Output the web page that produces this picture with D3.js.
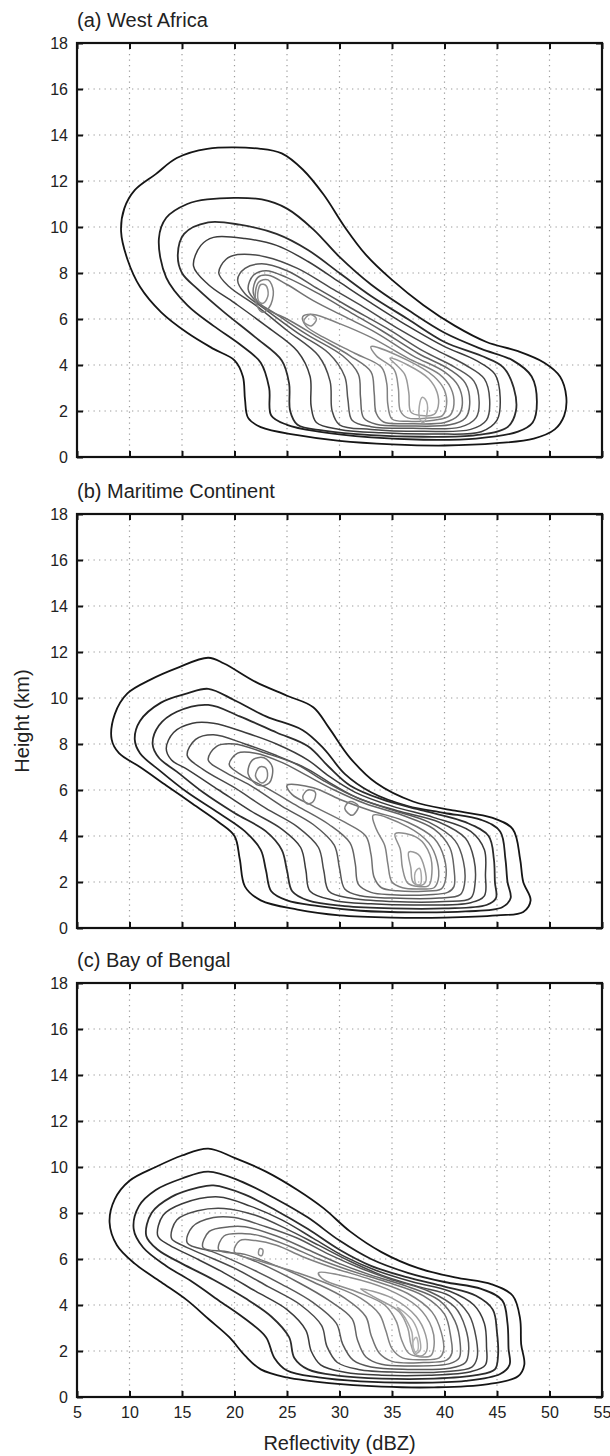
<!DOCTYPE html>
<html>
<head>
<meta charset="utf-8">
<script src="https://cdn.jsdelivr.net/npm/d3@7"></script>
<style>
  body { margin: 0; background: #fff; }
  svg text { font-family: "Liberation Sans", Arial, sans-serif; fill: #222; }
  .grid line { stroke: #9c9c9c; stroke-width: 1.2; stroke-dasharray: 1.3 4.2; }
  .axis path.domain { display: none; }
  .axis line { stroke: #111; stroke-width: 2; }
  .axis text { font-size: 16px; }
</style>
</head>
<body>
<svg id="chart" width="610" height="1456"></svg>
<script>
// tick values
const xTicks = [5, 10, 15, 20, 25, 30, 35, 40, 45, 50, 55];
const yTicks = [0, 2, 4, 6, 8, 10, 12, 14, 16, 18];

// gray level of each contour, outer -> inner
const levelColors = ["#151515", "#1f1f1f", "#2c2c2c", "#3b3b3b", "#494949", "#575757",
  "#646464", "#727272", "#808080", "#8d8d8d", "#9a9a9a", "#a8a8a8", "#b5b5b5"];

// contours: [level, [[dBZ, km], ...]]
const westAfrica = [
  [0, [[9.2,9.8],[9.5,10.8],[10.5,11.6],[12.5,12.3],[14.5,13],[17.4,13.4],[22.5,13.4],[24.5,13.2],[26.5,12.5],[28.5,11.4],[30.5,10],[32.5,8.8],[35,7.7],[38,6.6],[41,5.7],[44,5],[47,4.6],[49.5,4.1],[51,3.5],[51.6,2.6],[51.4,1.8],[50.5,1.2],[48.5,0.8],[45,0.6],[40,0.5],[35,0.55],[30,0.7],[26,0.95],[22.5,1.3],[21.3,1.7],[21,2.5],[20.8,3.5],[20,4.2],[18,4.7],[15.5,5.4],[13,6.3],[11,7.4],[9.8,8.6]]],
  [1, [[12.8,9.5],[13.5,10.4],[15.5,11],[17.4,11.2],[22.6,11.2],[25,10.8],[27.5,9.9],[30,8.7],[33,7.5],[36.5,6.4],[40,5.4],[43.5,4.7],[46.5,4.2],[48.3,3.5],[48.8,2.4],[48.4,1.5],[47,1.1],[43,0.8],[38,0.75],[33,0.85],[28,1.1],[25,1.4],[23.5,1.8],[23.3,3],[22.5,4.1],[20.5,4.9],[18,5.7],[15.5,6.6],[13.5,7.8]]],
  [2, [[14.6,8.8],[15.2,9.7],[17.5,10.2],[20.5,10.1],[24,9.7],[27,9],[30,8],[33,7],[36.5,6],[40,5],[43.5,4.4],[45.6,3.9],[46.6,3],[46.8,2],[46,1.3],[43,0.95],[38,0.88],[33,0.95],[28.5,1.15],[26,1.4],[25.3,2],[25.2,3.2],[24.5,4.2],[22,5.2],[19,6.3],[16.5,7.3],[15,8]]],
  [3, [[16.1,8.3],[16.8,9.2],[18,9.55],[21,9.5],[24,9.2],[27,8.5],[30,7.6],[33,6.7],[36.5,5.7],[40,4.8],[43,4.2],[44.8,3.6],[45.3,2.6],[45,1.6],[43.5,1.1],[39,1],[34,1.05],[30,1.2],[27.8,1.5],[27.3,2.2],[27.2,3.5],[26,4.6],[23,5.7],[20,6.7],[17.5,7.5]]],
  [4, [[18.5,8],[19.2,8.6],[20.3,8.8],[23,8.7],[26,8.2],[29,7.4],[32,6.6],[35.5,5.6],[39,4.7],[42,4],[43.8,3.4],[44.3,2.5],[44,1.6],[42.5,1.2],[38,1.12],[33,1.2],[30,1.4],[29.3,2],[29.1,3.3],[28,4.4],[25,5.5],[22,6.6],[19.5,7.4]]],
  [5, [[20.3,7.7],[21,8.2],[22.6,8.4],[25,8.1],[28,7.3],[31,6.5],[34.5,5.6],[38,4.6],[41,3.9],[42.8,3.3],[43.3,2.4],[43,1.7],[41.5,1.3],[37,1.25],[33,1.32],[31.2,1.6],[30.8,2.5],[30.5,3.5],[29,4.5],[26,5.4],[23,6.4],[21,7.1]]],
  [6, [[21.3,7.3],[21.8,7.9],[23,8.1],[25,7.8],[28,7.1],[31,6.3],[34,5.5],[37.5,4.5],[40.5,3.8],[42,3.2],[42.4,2.3],[42,1.7],[40.5,1.4],[36.5,1.35],[33.5,1.42],[32.3,1.7],[32,2.6],[31.8,3.6],[30.3,4.4],[27,5.3],[24,6.2],[22,6.8]]],
  [7, [[21.8,7.1],[22.2,7.8],[23.2,7.9],[25,7.5],[27.5,6.8],[30.5,6.1],[33.5,5.4],[37,4.4],[40,3.7],[41.3,3.1],[41.7,2.3],[41.3,1.8],[40,1.5],[36.5,1.45],[34.2,1.52],[33.5,1.9],[33.3,2.8],[33,3.7],[31,4.4],[28,5.2],[25,6],[22.8,6.5]]],
  [8, [[22,6.8],[22.3,7.6],[23.2,7.7],[23.7,7.2],[23.3,6.5],[22.6,6.3]]],
  [8, [[26.5,6.1],[27.5,6.2],[30,5.8],[33,5.2],[36.5,4.3],[39.5,3.6],[40.6,3],[40.9,2.3],[40.5,1.8],[39,1.6],[36.5,1.55],[35,1.65],[34.6,2.3],[34.5,3.2],[34,3.9],[31.5,4.5],[28.5,5.2],[26.8,5.7]]],
  [9, [[22.2,7],[22.5,7.5],[23,7.45],[23.2,7.05],[22.8,6.7],[22.4,6.72]]],
  [9, [[26.6,5.9],[27.2,6.2],[27.8,6],[27.3,5.7]]],
  [9, [[33,4.8],[36.5,4.2],[39,3.5],[40,2.9],[40.2,2.3],[39.8,1.8],[38.5,1.7],[36.5,1.7],[35.8,2],[35.6,3],[35.2,3.8],[33.5,4.4]]],
  [10, [[34.8,4.3],[36.5,4],[38.5,3.4],[39.3,2.8],[39.4,2.2],[39,1.85],[37.8,1.8],[36.8,1.95],[36.6,2.8],[36.2,3.6]]],
  [11, [[37.7,1.6],[37.6,2.2],[37.9,2.6],[38.3,2.4],[38.3,1.8],[38,1.5]]]
];

const maritime = [
  [0, [[8.3,8.2],[8.6,9.3],[9.8,10.2],[12,10.8],[14.5,11.3],[17.5,11.75],[19,11.5],[22,10.7],[25,10.1],[27.5,9.6],[29,8.7],[31,7.4],[33.5,6.3],[37,5.5],[41,5.1],[44.5,4.8],[46.5,4.3],[47.2,3],[47.5,2],[48.2,1.2],[47.5,0.7],[45,0.55],[40,0.45],[35,0.45],[30,0.55],[26,0.8],[22.5,1.2],[21,1.8],[20.5,3],[20,4],[18.5,4.6],[16,5.4],[13.5,6.2],[11,7],[9,7.6]]],
  [1, [[10.5,8.2],[11,9],[13,9.8],[15.5,10.2],[17.5,10.4],[20,9.9],[23,9.2],[26.5,8.6],[28.5,7.8],[30.5,6.7],[33,5.9],[36.5,5.3],[40,5],[43.5,4.7],[45.3,4.2],[45.8,3],[46,2],[46.3,1.3],[45.5,0.9],[42,0.72],[37,0.68],[32,0.75],[28,0.95],[25,1.2],[23.5,1.6],[23,2.5],[22.5,3.4],[21,4.2],[18.5,5],[15.5,5.9],[13,6.8],[11,7.6]]],
  [2, [[12.2,8],[12.8,8.8],[14.5,9.4],[17.5,9.7],[20.5,9.2],[24,8.5],[27,7.9],[29,7],[31,6.2],[34,5.6],[38,5.1],[42,4.6],[44.2,4],[44.7,3],[44.8,2],[44.9,1.3],[44,1],[40,0.85],[35,0.85],[30.5,0.95],[27,1.2],[25.5,1.6],[25,2.5],[24.5,3.4],[23,4.2],[20,5],[17,5.9],[14.5,6.8],[12.8,7.4]]],
  [3, [[13.5,7.8],[14.2,8.5],[16,8.9],[18,8.9],[21,8.5],[24,8],[27,7.3],[29,6.6],[31.5,5.9],[35,5.3],[39,4.8],[42.5,4.2],[43.8,3.4],[43.9,2.3],[43.8,1.4],[42.5,1.1],[38,1],[33,1.05],[29.5,1.2],[27.2,1.6],[26.8,2.5],[26.3,3.5],[24.5,4.3],[21.5,5.1],[18.5,6],[15.5,6.9],[14,7.3]]],
  [4, [[15.5,7.5],[16.3,8.2],[18,8.4],[21,8],[24,7.5],[27,6.9],[29.5,6.2],[32,5.6],[35.5,5.1],[39.5,4.6],[42,3.9],[42.8,3],[42.9,1.9],[42.5,1.3],[40,1.15],[35,1.15],[31,1.3],[29,1.6],[28.5,2.5],[28,3.5],[26,4.4],[23,5.2],[20,6.1],[17,6.9]]],
  [5, [[17.5,7.3],[18.3,7.9],[20,8],[23,7.6],[26,7.1],[28.5,6.4],[31,5.8],[34.5,5.2],[38.5,4.6],[41,3.8],[41.8,2.9],[41.9,1.9],[41.5,1.45],[39.5,1.3],[35,1.3],[32,1.4],[30.5,1.7],[30,2.6],[29.5,3.6],[27.5,4.5],[24.5,5.3],[21.5,6.2],[19,6.8]]],
  [6, [[19.5,7.1],[20.3,7.6],[22,7.6],[24.5,7.2],[27,6.6],[29.5,6],[32.5,5.4],[36,4.9],[39,4.3],[40.5,3.5],[40.9,2.6],[40.9,1.8],[40.3,1.55],[38.5,1.45],[35,1.45],[33,1.55],[31.8,1.9],[31.5,2.8],[31,3.7],[29,4.5],[26,5.3],[23,6.1],[20.5,6.7]]],
  [7, [[21.3,6.7],[21.7,7.3],[22.8,7.4],[23.6,7],[23.3,6.3],[22.3,6.2]]],
  [7, [[25,6.2],[27.5,6.1],[30,5.6],[33,5.1],[36.5,4.6],[39,3.9],[40,3],[40.1,2.1],[39.7,1.7],[38,1.6],[35.5,1.62],[34,1.75],[33.3,2.2],[33,3.2],[32.5,4],[30.5,4.6],[27.5,5.3],[25.5,5.8]]],
  [8, [[22,6.6],[22.4,7],[23,6.95],[23.1,6.5],[22.6,6.3]]],
  [8, [[26.5,5.7],[27,6],[27.7,5.9],[27.5,5.5],[26.9,5.4]]],
  [8, [[30.5,5.2],[31,5.5],[31.8,5.3],[31.2,4.9]]],
  [8, [[33.2,4.9],[36.5,4.4],[38.5,3.7],[39.3,2.9],[39.4,2.1],[39,1.75],[37.8,1.7],[36,1.75],[35,2],[34.6,2.8],[34.3,3.6],[33.5,4.3]]],
  [9, [[35.3,4.1],[37.5,3.9],[38.6,3.2],[38.8,2.4],[38.5,1.85],[37.5,1.8],[36.5,1.95],[36,2.6],[35.8,3.4]]],
  [10, [[36.6,3.3],[37.5,3.2],[38.1,2.6],[38.2,2],[37.7,1.85],[37,2],[36.8,2.6]]],
  [11, [[37.3,1.9],[37.2,2.4],[37.6,2.6],[37.8,2.2],[37.7,1.9]]]
];

const bengal = [
  [0, [[8.1,7.6],[8.6,8.6],[10,9.4],[12.5,10],[15,10.5],[17.5,10.8],[20,10.4],[23,9.8],[26,9],[28.5,8.2],[31,7.2],[34,6.3],[37.5,5.6],[41,5.2],[44.5,4.9],[46.5,4.4],[47.2,3.4],[47.3,2.3],[47.6,1.4],[47,0.9],[44,0.55],[39,0.42],[34,0.45],[29,0.6],[25,0.85],[22.5,1.2],[21,1.8],[19.5,2.6],[17.5,3.4],[15.5,4.2],[13,5],[10.5,5.8],[8.8,6.6]]],
  [1, [[10.4,7.3],[10.9,8.3],[12.5,9],[15,9.5],[17.5,9.8],[20.5,9.4],[24,8.6],[27,7.8],[30,6.8],[33,6],[36.5,5.4],[40,5],[43.5,4.7],[45.5,4.2],[46,3.2],[46.1,2.1],[46.2,1.4],[45.3,1],[42,0.7],[37,0.62],[32,0.68],[28,0.85],[25,1.15],[23.8,1.7],[23,2.6],[21,3.4],[18.5,4.2],[16,5],[13.5,5.7],[11.3,6.5]]],
  [2, [[11.6,7],[12.1,8],[14,8.7],[16.5,9.1],[18,9.2],[21,8.8],[24,8.1],[27,7.3],[30,6.4],[33,5.7],[36.5,5.2],[40,4.8],[43,4.4],[44.6,3.8],[45,2.8],[45.1,1.8],[44.8,1.2],[43,0.95],[39,0.8],[34,0.8],[30,0.92],[27,1.2],[25.7,1.7],[25.2,2.6],[23.5,3.5],[21,4.3],[18,5.1],[15,5.8],[12.7,6.4]]],
  [3, [[12.7,7],[13.2,7.9],[15,8.4],[18.5,8.7],[21.5,8.3],[24.5,7.7],[27.5,6.9],[30.5,6.1],[33.5,5.5],[37,5],[40.5,4.6],[42.8,4],[43.8,3.2],[44,2.2],[43.9,1.4],[42.5,1.1],[38.5,0.95],[34,0.95],[30.5,1.08],[28.2,1.4],[27.3,2],[26.8,2.9],[25,3.8],[22,4.6],[19,5.4],[16,6.1],[13.8,6.6]]],
  [4, [[14,6.9],[14.5,7.7],[16.5,8.1],[19,8.2],[22,7.9],[25,7.3],[28,6.6],[31,5.9],[34,5.3],[37.5,4.8],[40.5,4.4],[42.3,3.6],[43,2.6],[43.1,1.7],[42.6,1.3],[40,1.1],[35.5,1.08],[31.8,1.2],[29.8,1.5],[28.8,2.2],[28.3,3.1],[26.3,4],[23.2,4.8],[20,5.6],[17,6.2],[15,6.6]]],
  [5, [[15.5,6.7],[16,7.4],[18,7.8],[20,7.8],[23,7.4],[26,6.9],[29,6.2],[32,5.6],[35,5.1],[38.5,4.6],[41,3.9],[42,3],[42.3,2],[42,1.5],[40.5,1.25],[36.5,1.2],[33,1.3],[31.3,1.6],[30.3,2.3],[29.7,3.2],[27.5,4.1],[24.5,4.9],[21,5.7],[18,6.3]]],
  [6, [[17,6.5],[17.6,7.2],[19.5,7.4],[21,7.4],[24,7],[27,6.4],[30,5.8],[33,5.3],[36.5,4.8],[39.5,4.2],[41,3.3],[41.5,2.3],[41.4,1.7],[40.5,1.45],[37,1.35],[34,1.42],[32.5,1.75],[31.7,2.5],[31.2,3.4],[29,4.2],[26,5],[22.5,5.8],[19.5,6.3]]],
  [7, [[18.5,6.4],[19,7],[21,7.1],[22.5,7],[25,6.6],[28,6],[31,5.5],[34.5,5],[38,4.4],[40,3.6],[40.6,2.6],[40.7,1.9],[40.2,1.6],[38,1.5],[35,1.55],[33.8,1.9],[33,2.7],[32.5,3.5],[30.5,4.3],[27.5,5],[24,5.7],[21,6.2]]],
  [8, [[20,6.3],[20.5,6.8],[22,6.8],[24,6.6],[26.5,6.1],[29.5,5.6],[33,5.1],[36.5,4.5],[38.8,3.7],[39.7,2.8],[39.9,2],[39.5,1.7],[37.8,1.62],[36,1.7],[35,2.1],[34.4,2.9],[33.8,3.6],[32,4.3],[29,4.9],[26,5.4],[22.5,5.9]]],
  [9, [[22.3,6.2],[22.4,6.45],[22.7,6.4],[22.6,6.15]]],
  [9, [[28,5.4],[31,5.2],[34.5,4.7],[37.5,3.9],[38.8,3],[39,2.2],[38.7,1.8],[37.6,1.75],[36.6,1.9],[35.9,2.5],[35.4,3.3],[34.3,4],[31.5,4.6],[28.5,5.1]]],
  [10, [[32,4.7],[35,4.3],[37.3,3.5],[38.2,2.7],[38.3,2],[37.9,1.8],[37.2,1.85],[36.8,2.3],[36.5,3],[35.7,3.7],[33.5,4.3]]],
  [11, [[35.5,3.9],[37,3.3],[37.6,2.6],[37.7,2.05],[37.3,1.9],[37,2.2],[36.9,2.8],[36.3,3.4]]],
  [12, [[37.1,2],[37,2.4],[37.3,2.6],[37.5,2.3],[37.4,2]]]
];

const panels = [
  { title: "(a) West Africa", top: 43, contours: westAfrica, xLabels: false },
  { title: "(b) Maritime Continent", top: 514, contours: maritime, xLabels: false },
  { title: "(c) Bay of Bengal", top: 983, contours: bengal, xLabels: true }
];

const left = 77, plotW = 525, plotH = 414;
const svg = d3.select("#chart");

const xScale = d3.scaleLinear().domain([5, 55]).range([0, plotW]);
const yScale = d3.scaleLinear().domain([0, 18]).range([plotH, 0]);

const lineGen = d3.line()
  .x(d => xScale(d[0]))
  .y(d => yScale(d[1]))
  .curve(d3.curveCatmullRomClosed.alpha(0.5));

panels.forEach(p => {
  const g = svg.append("g").attr("transform", `translate(${left},${p.top})`);

  // dotted grid
  const grid = g.append("g").attr("class", "grid");
  grid.selectAll(".vx").data(xTicks.slice(1, -1)).enter().append("line")
    .attr("x1", d => xScale(d)).attr("x2", d => xScale(d))
    .attr("y1", 0).attr("y2", plotH);
  grid.selectAll(".hy").data(yTicks.slice(1, -1)).enter().append("line")
    .attr("x1", 0).attr("x2", plotW)
    .attr("y1", d => yScale(d)).attr("y2", d => yScale(d));

  // contours
  g.append("g").selectAll("path")
    .data(p.contours)
    .enter().append("path")
    .attr("d", d => lineGen(d[1]))
    .attr("fill", "none")
    .attr("stroke", d => levelColors[d[0]])
    .attr("stroke-width", d => d[0] < 3 ? 1.8 : 1.5)
    .attr("stroke-linejoin", "round");

  // axes with inward ticks on all four sides
  g.append("g").attr("class", "axis").attr("transform", `translate(0,${plotH})`)
    .call(d3.axisBottom(xScale).tickValues(xTicks).tickSize(-6).tickPadding(10)
      .tickFormat(p.xLabels ? d3.format("d") : ""));
  g.append("g").attr("class", "axis")
    .call(d3.axisTop(xScale).tickValues(xTicks).tickSize(-6).tickFormat(""));
  g.append("g").attr("class", "axis")
    .call(d3.axisLeft(yScale).tickValues(yTicks).tickSize(-6).tickPadding(9).tickFormat(d3.format("d")));
  g.append("g").attr("class", "axis").attr("transform", `translate(${plotW},0)`)
    .call(d3.axisRight(yScale).tickValues(yTicks).tickSize(-6).tickFormat(""));

  g.append("rect")
    .attr("width", plotW).attr("height", plotH)
    .attr("fill", "none").attr("stroke", "#111").attr("stroke-width", 2.2);

  svg.append("text")
    .attr("x", left).attr("y", p.top - 16)
    .style("font-size", "20px")
    .text(p.title);
});

svg.append("text")
  .attr("transform", `translate(29,${514 + plotH / 2}) rotate(-90)`)
  .attr("text-anchor", "middle")
  .style("font-size", "20px")
  .text("Height (km)");

svg.append("text")
  .attr("x", left + plotW / 2).attr("y", 1450)
  .attr("text-anchor", "middle")
  .style("font-size", "20px")
  .text("Reflectivity (dBZ)");
</script>
</body>
</html>
